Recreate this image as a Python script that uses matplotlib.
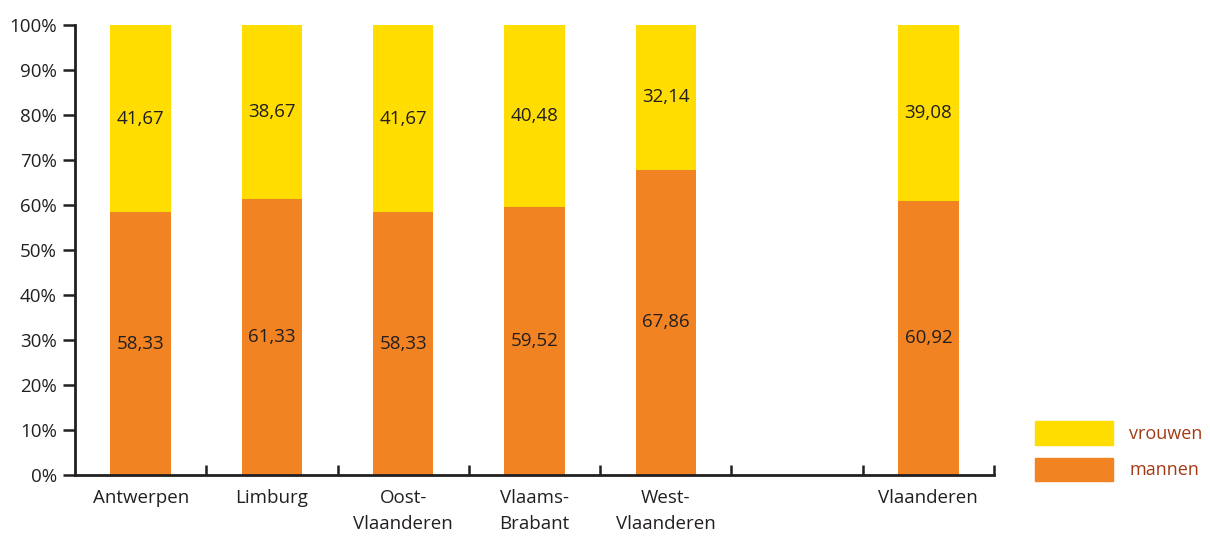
import numpy as np
import matplotlib
matplotlib.use('Agg')
import matplotlib.pyplot as plt
from matplotlib.patches import Patch

plt.rcParams['font.family'] = ['Open Sans', 'DejaVu Sans']

# categories (empty slot between West-Vlaanderen and Vlaanderen)
categories = ['Antwerpen', 'Limburg', 'Oost-\nVlaanderen', 'Vlaams-\nBrabant',
              'West-\nVlaanderen', '', 'Vlaanderen']
mannen = [58.33, 61.33, 58.33, 59.52, 67.86, np.nan, 60.92]
vrouwen = [41.67, 38.67, 41.67, 40.48, 32.14, np.nan, 39.08]
yticks = [0, 10, 20, 30, 40, 50, 60, 70, 80, 90, 100]

col_m = '#F28322'
col_v = '#FFDD00'
txt = '#231F20'

fig = plt.figure(figsize=(12.1, 5.37), dpi=100)
ax = fig.add_axes([0.062, 0.1155, 0.7595, 0.838])

x = np.arange(len(categories))
w = 0.46
ax.bar(x, mannen, w, color=col_m, label='mannen')
ax.bar(x, vrouwen, w, bottom=mannen, color=col_v, label='vrouwen')

for i in x:
    if np.isnan(mannen[i]):
        continue
    ax.text(i, mannen[i] / 2, '{:.2f}'.format(mannen[i]).replace('.', ','),
            ha='center', va='center', fontsize=13.5, color=txt)
    ax.text(i, mannen[i] + vrouwen[i] / 2, '{:.2f}'.format(vrouwen[i]).replace('.', ','),
            ha='center', va='center', fontsize=13.5, color=txt)

ax.set_xlim(-0.5, len(categories) - 0.5)
ax.set_ylim(0, 100)
ax.set_yticks(yticks)
ax.set_yticklabels(['{}%'.format(v) for v in yticks], fontsize=13.5, color=txt)
ax.tick_params(axis='y', direction='out', length=9, width=1.8, color=txt, pad=4)

ax.set_xticks(x)
ax.set_xticklabels(categories, fontsize=13.5, color=txt, linespacing=1.55)
ax.tick_params(axis='x', which='major', length=0, pad=10)
ax.set_xticks(np.arange(len(categories)) + 0.5, minor=True)
ax.tick_params(axis='x', which='minor', direction='in', length=7, width=1.8, color=txt)

for s in ['top', 'right']:
    ax.spines[s].set_visible(False)
for s in ['left', 'bottom']:
    ax.spines[s].set_linewidth(2)
    ax.spines[s].set_color(txt)

handles = [Patch(color=col_v, label='vrouwen'), Patch(color=col_m, label='mannen')]
leg = fig.legend(handles=handles, loc='lower left', bbox_to_anchor=(0.8475, 0.088),
                 frameon=False, fontsize=13, handlelength=4.32, handleheight=1.6,
                 labelspacing=0.72, handletextpad=0.94, borderpad=0)
for t in leg.get_texts():
    t.set_color('#A33A17')

fig.savefig('out.png', dpi=100)
